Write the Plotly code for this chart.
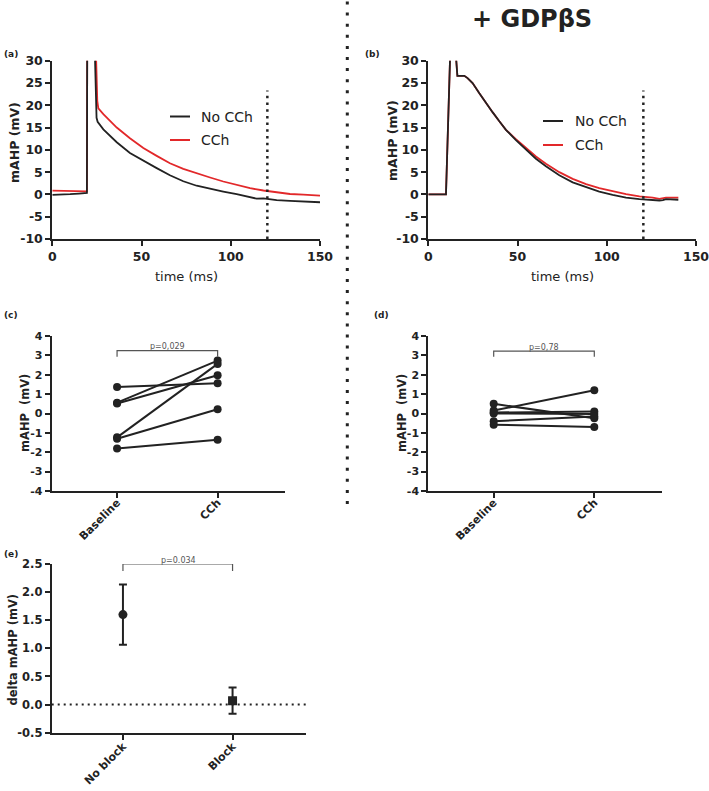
import plotly.graph_objects as go

W, H = 709, 791

# ---------------- data ----------------
# Panel (a): mAHP traces (control)
A_T_NOCCH = [0, 5, 10, 15, 19.4, 19.6, 23.3, 24.8, 25.4, 28.6, 32.3, 36.1, 43.5, 51.0, 58.5, 65.9,
             73.4, 80.9, 88.4, 95.8, 103.3, 110.8, 114.5, 118.3, 125.7, 133.2, 140.7, 150]
A_V_NOCCH = [-0.1, -0.1, 0.05, 0.2, 0.35, 40, 40, 17.2, 16.3, 14.6, 13.1, 11.7, 9.3, 7.5, 5.9, 4.3,
             2.95, 1.95, 1.25, 0.65, 0.05, -0.7, -0.95, -0.9, -1.3, -1.45, -1.6, -1.75]
A_T_CCH = [0, 5, 10, 15, 19.4, 19.6, 23.9, 25.2, 25.8, 28.6, 32.3, 36.1, 43.5, 51.0, 58.5, 65.9,
           73.4, 80.9, 88.4, 95.8, 103.3, 110.8, 118.3, 125.7, 133.2, 140.7, 150]
A_V_CCH = [0.85, 0.8, 0.85, 0.75, 0.7, 40, 40, 21.0, 19.3, 18.0, 16.4, 15.0, 12.6, 10.4, 8.65, 7.0,
           5.75, 4.7, 3.8, 2.9, 2.15, 1.4, 0.88, 0.43, 0.1, -0.05, -0.25]

# Panel (b): mAHP traces (+ GDPbetaS)
B_T_NOCCH = [0, 9.9, 12.3, 15.3, 16.3, 20.2, 22.0, 24.8, 28.6, 32.3, 36.1, 39.8, 43.5, 49.1, 54.7,
             60.3, 65.9, 73.4, 80.9, 88.4, 95.8, 103.3, 110.8, 118.3, 125.7, 129.5, 131.5, 133.2, 140.1]
B_V_NOCCH = [0, 0, 32, 32, 26.6, 26.6, 26.1, 25.0, 22.7, 20.5, 18.4, 16.4, 14.5, 12.2, 10.0,
             8.0, 6.3, 4.3, 2.7, 1.6, 0.65, -0.1, -0.7, -1.06, -1.29, -1.36, -1.3, -1.05, -1.2]
B_T_CCH = [0, 9.9, 12.3, 15.3, 16.3, 20.2, 22.0, 24.8, 28.6, 32.3, 36.1, 39.8, 43.5, 49.1, 54.7,
           60.3, 65.9, 73.4, 80.9, 88.4, 95.8, 103.3, 110.8, 118.3, 125.7, 129.5, 131.5, 133.2, 140.1]
B_V_CCH = [0, 0, 32, 32, 26.6, 26.6, 26.1, 25.0, 22.7, 20.5, 18.4, 16.4, 14.5, 12.4, 10.4,
           8.5, 6.9, 5.0, 3.5, 2.3, 1.4, 0.65, 0.06, -0.46, -0.7, -1.0, -0.9, -0.7, -0.7]

TRACE_XTICKS = [0, 50, 100, 150]
TRACE_YTICKS = [-10, -5, 0, 5, 10, 15, 20, 25, 30]
TRACE_YTICKTEXT = ["-10", "-5", "0", "5", "10", "15", "20", "25", "30"]
MEASURE_T = 120.5
MEASURE_TOP = 23.3

# Panels (c) and (d): paired values
PAIR_CATS = ["Baseline", "CCh"]
C_BASELINE = [1.37, 0.56, 0.52, -1.23, -1.3, -1.8]
C_CCH = [1.56, 2.73, 1.97, 2.56, 0.22, -1.35]
D_BASELINE = [0.15, 0.5, 0.05, 0.0, -0.4, -0.58]
D_CCH = [1.2, -0.25, 0.1, -0.03, -0.15, -0.7]
PAIR_YTICKS = [-4, -3, -2, -1, 0, 1, 2, 3, 4]
PAIR_YTICKTEXT = ["-4", "-3", "-2", "-1", "0", "1", "2", "3", "4"]
C_PTEXT = "p=0,029"
D_PTEXT = "p=0,78"

# Panel (e): delta mAHP
E_CATS = ["No block", "Block"]
E_MEAN = [1.6, 0.07]
E_ERR = [0.535, 0.235]
E_SYMBOLS = ["circle", "square"]
E_YTICKS = [-0.5, 0.0, 0.5, 1.0, 1.5, 2.0, 2.5]
E_YTICKTEXT = ["-0.5", "0.0", "0.5", "1.0", "1.5", "2.0", "2.5"]
E_PTEXT = "p=0.034"

# ---------------- style ----------------
INK = "#222222"
RED = "#e2282a"
FONT = "DejaVu Sans"


def px(x):
    return x / W


def py(y):
    return 1 - y / H


def axis(domain, anchor, **kw):
    d = dict(domain=domain, anchor=anchor, showline=True, linecolor=INK, linewidth=2,
             ticks="outside", ticklen=5, tickwidth=2, tickcolor=INK, showgrid=False,
             zeroline=False, fixedrange=True, automargin=False, ticklabeloverflow="allow",
             tickfont=dict(family=FONT, size=12.5, color=INK, weight="bold"))
    d.update(kw)
    return d


fig = go.Figure()

# (a)
fig.add_trace(go.Scatter(x=A_T_CCH, y=A_V_CCH, mode="lines", line=dict(color=RED, width=1.8),
                         xaxis="x", yaxis="y", showlegend=False))
fig.add_trace(go.Scatter(x=A_T_NOCCH, y=A_V_NOCCH, mode="lines", line=dict(color=INK, width=1.8),
                         xaxis="x", yaxis="y", showlegend=False))
# (b)
fig.add_trace(go.Scatter(x=B_T_CCH, y=B_V_CCH, mode="lines", line=dict(color=RED, width=1.8),
                         xaxis="x2", yaxis="y2", showlegend=False))
fig.add_trace(go.Scatter(x=B_T_NOCCH, y=B_V_NOCCH, mode="lines", line=dict(color=INK, width=1.8),
                         xaxis="x2", yaxis="y2", showlegend=False))

# (c) and (d) paired lines
for base, cch, xa, ya in [(C_BASELINE, C_CCH, "x3", "y3"), (D_BASELINE, D_CCH, "x4", "y4")]:
    for b, c in zip(base, cch):
        fig.add_trace(go.Scatter(x=PAIR_CATS, y=[b, c], mode="lines+markers",
                                 line=dict(color=INK, width=2),
                                 marker=dict(color=INK, size=8, symbol="circle"),
                                 xaxis=xa, yaxis=ya, showlegend=False))

# (e)
for cat, m, e, s in zip(E_CATS, E_MEAN, E_ERR, E_SYMBOLS):
    fig.add_trace(go.Scatter(x=[cat], y=[m], mode="markers",
                             marker=dict(color=INK, size=9, symbol=s),
                             error_y=dict(type="data", array=[e], color=INK, thickness=2, width=4),
                             xaxis="x5", yaxis="y5", showlegend=False))

# domains (window pixel positions converted to figure fractions)
A_X = [px(52.3), px(320)]
B_X = [px(428.3), px(696)]
AB_Y = [py(239), py(60.7)]
C_X = [px(51.7), px(285)]
D_X = [px(428.3), px(661.7)]
CD_Y = [py(491), py(336)]
E_X = [px(51.7), px(306)]
E_Y = [py(732.7), py(564)]

trace_x = dict(range=[0, 150], tickvals=TRACE_XTICKS, ticktext=[str(v) for v in TRACE_XTICKS])
trace_y = dict(range=[-10, 30], tickvals=TRACE_YTICKS, ticktext=TRACE_YTICKTEXT)
pair_x = dict(type="category", range=[-0.65, 1.67], tickangle=-45, ticklabelstandoff=-6,
              tickfont=dict(family=FONT, size=11, color=INK, weight="bold"))
e_x = dict(type="category", range=[-0.65, 1.67], tickangle=-45, ticklabelstandoff=-4,
           tickfont=dict(family=FONT, size=11, color=INK, weight="bold"))
pair_y = dict(range=[-4, 4], tickvals=PAIR_YTICKS, ticktext=PAIR_YTICKTEXT,
              tickfont=dict(family=FONT, size=11, color=INK, weight="bold"))

fig.update_layout(
    xaxis=axis(A_X, "y", **trace_x),
    yaxis=axis(AB_Y, "x", **trace_y),
    xaxis2=axis(B_X, "y2", **trace_x),
    yaxis2=axis(AB_Y, "x2", **trace_y),
    xaxis3=axis(C_X, "y3", **pair_x),
    yaxis3=axis(CD_Y, "x3", **pair_y),
    xaxis4=axis(D_X, "y4", **pair_x),
    yaxis4=axis(CD_Y, "x4", **pair_y),
    xaxis5=axis(E_X, "y5", **e_x),
    yaxis5=axis(E_Y, "x5", range=[-0.5, 2.5], tickvals=E_YTICKS, ticktext=E_YTICKTEXT,
                tickfont=dict(family=FONT, size=11.5, color=INK, weight="bold")),
)

shapes = []
# measurement dotted lines in (a) and (b)
for xr, yr in [("x", "y"), ("x2", "y2")]:
    shapes.append(dict(type="line", xref=xr, yref=yr, x0=MEASURE_T, x1=MEASURE_T, y0=-10, y1=MEASURE_TOP,
                       line=dict(color=INK, width=2.5, dash="2.5px,4.2px")))
# zero dotted line in (e)
shapes.append(dict(type="line", xref="x5 domain", yref="y5", x0=0, x1=1, y0=0, y1=0,
                   line=dict(color=INK, width=2, dash="2px,4px")))
# vertical separator
shapes.append(dict(type="line", xref="paper", yref="paper", x0=px(347.3), x1=px(347.3),
                   y0=py(1.5), y1=py(508), line=dict(color=INK, width=3, dash="3px,8.1px")))

# significance brackets
for xr, yr, top, foot in [("x3", "y3", 3.25, 2.93), ("x4", "y4", 3.22, 2.93), ("x5", "y5", 2.5, 2.375)]:
    shapes.append(dict(type="path", xref=xr, yref=yr,
                       path=f"M 0,{foot} L 0,{top} L 1,{top} L 1,{foot}",
                       line=dict(color="#555555", width=1.2)))

# legends (drawn manually)
for y_blk, y_red, x0, x1 in [(116.5, 140, 170, 190), (121, 145, 543, 563)]:
    shapes.append(dict(type="line", xref="paper", yref="paper", x0=px(x0), x1=px(x1),
                       y0=py(y_blk), y1=py(y_blk), line=dict(color=INK, width=2)))
    shapes.append(dict(type="line", xref="paper", yref="paper", x0=px(x0), x1=px(x1),
                       y0=py(y_red), y1=py(y_red), line=dict(color=RED, width=2)))

annotations = []


def ann(text, x, y, size, bold=False, angle=0, xanchor="center", color=INK, xref="paper", yref="paper"):
    annotations.append(dict(text=text, x=x, y=y, xref=xref, yref=yref, showarrow=False,
                            textangle=angle, xanchor=xanchor, yanchor="middle",
                            font=dict(family=FONT, size=size, color=color,
                                      weight="bold" if bold else "normal")))


# legend labels
ann("No CCh", px(199), py(116.5), 14, xanchor="left")
ann("CCh", px(199), py(140), 14, xanchor="left")
ann("No CCh", px(573), py(121), 14, xanchor="left")
ann("CCh", px(573), py(145), 14, xanchor="left")

# axis titles
ann("mAHP (mV)", px(15), py(143), 12.5, bold=True, angle=-90)
ann("time (ms)", px(186), py(276), 13)
ann("mAHP (mV)", px(392), py(141), 12.5, bold=True, angle=-90)
ann("time (ms)", px(562), py(276), 13)
ann("mAHP  (mV)", px(25), py(413), 11.5, bold=True, angle=-90)
ann("mAHP  (mV)", px(402), py(413), 11.5, bold=True, angle=-90)
ann("delta mAHP (mV)", px(12.5), py(650), 11.5, bold=True, angle=-90)

# panel labels
ann("(a)", px(1.5), py(54), 9, bold=True, xanchor="left")
ann("(b)", px(363), py(54), 9, bold=True, xanchor="left")
ann("(c)", px(1.5), py(315), 9, bold=True, xanchor="left")
ann("(d)", px(372), py(315), 9, bold=True, xanchor="left")
ann("(e)", px(1.5), py(554), 9, bold=True, xanchor="left")

# title
ann("+ GDPβS", px(532), py(19), 24, bold=True)

# p values
ann(C_PTEXT, 0.5, 3.48, 8, color="#555555", xref="x3", yref="y3")
ann(D_PTEXT, 0.5, 3.42, 8, color="#555555", xref="x4", yref="y4")
ann(E_PTEXT, px(178.7), py(560.5), 8, color="#555555")

fig.update_layout(
    width=W, height=H, autosize=False,
    margin=dict(l=0, r=0, t=0, b=0, pad=0, autoexpand=False),
    paper_bgcolor="white", plot_bgcolor="white",
    showlegend=False,
    shapes=shapes, annotations=annotations,
)

# place the figure flush with the window corner (remove the default page margin)
fig.write_html("out.html", config={"displayModeBar": False},
               post_script="document.body.style.margin='0';document.body.style.overflow='hidden';")
